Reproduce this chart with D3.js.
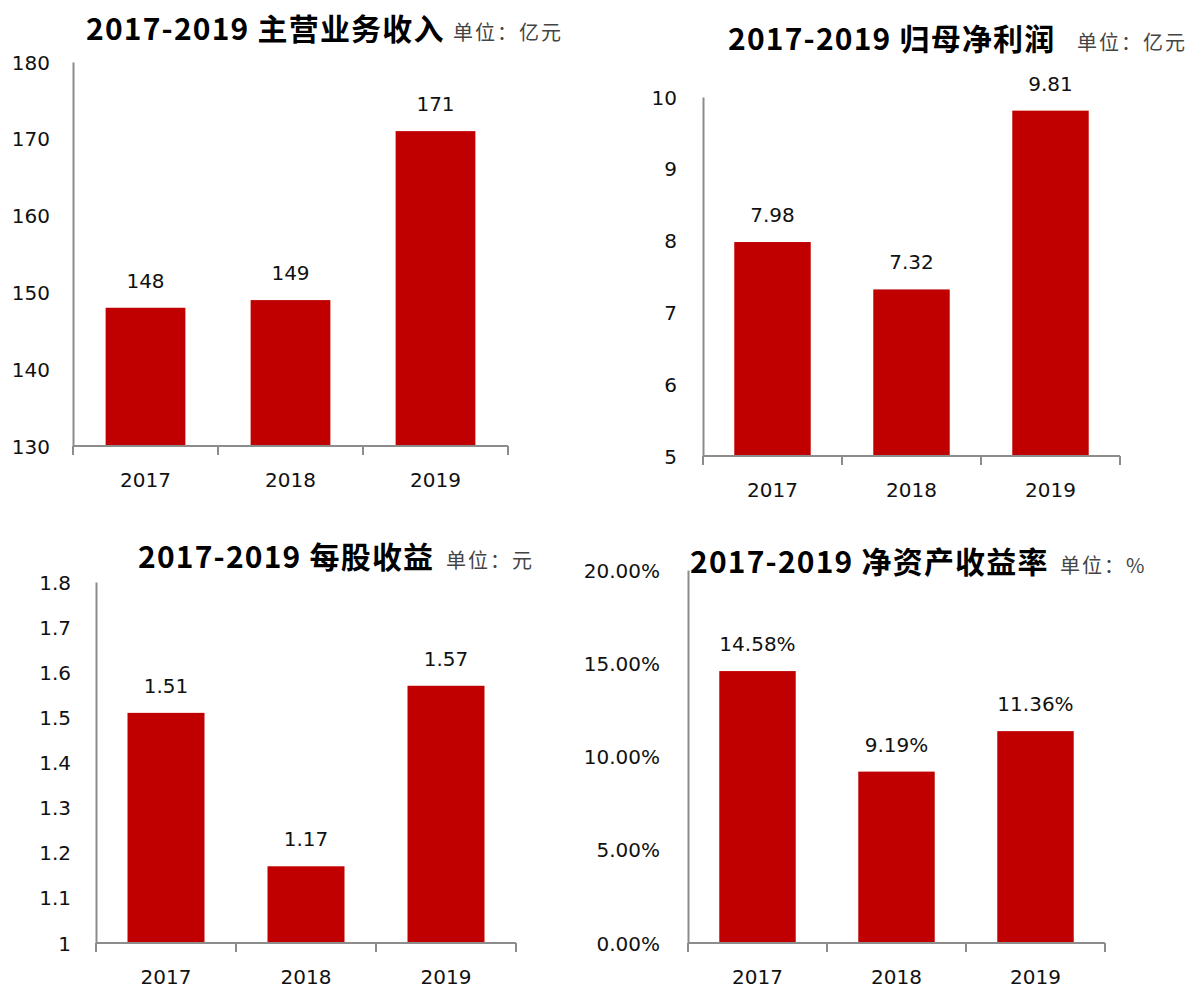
<!DOCTYPE html>
<html>
<head>
<meta charset="utf-8">
<script src="https://cdn.jsdelivr.net/npm/d3@7"></script>
<style>
    body { margin: 0; background: #fff; }
    .tick text, .val, .yr { font-family: "DejaVu Sans", Verdana, sans-serif; font-size: 20px; fill: #111; }
    .title { font-family: "Noto Sans CJK SC", sans-serif; font-weight: bold; font-size: 30px; fill: #000; letter-spacing: 1.2px; }
    .unit { font-family: "Noto Sans CJK SC", sans-serif; font-size: 20px; fill: #444; letter-spacing: 2px; }
</style>
</head>
<body>
<svg id="chart" width="1198" height="988"></svg>
<script>
const years = ["2017", "2018", "2019"]

const revenue = [148, 149, 171]
const netProfit = [7.98, 7.32, 9.81]
const eps = [1.51, 1.17, 1.57]
const roe = [14.58, 9.19, 11.36]

const revenueTicks = [130, 140, 150, 160, 170, 180]
const profitTicks = [5, 6, 7, 8, 9, 10]
const epsTicks = [1, 1.1, 1.2, 1.3, 1.4, 1.5, 1.6, 1.7, 1.8]
const roeTicks = [0, 5, 10, 15, 20]

const titles = ["2017-2019 主营业务收入", "2017-2019 归母净利润", "2017-2019 每股收益", "2017-2019 净资产收益率"]
const units = ["单位：亿元", "单位：亿元", "单位：元", "单位：%"]

const svg = d3.select("#chart")
const barColor = "#c00000"
const axisColor = "#8c8c8c"

// one panel = one small bar chart with its own axes
function drawPanel(p) {
    const g = svg.append("g")

    const x = d3.scaleBand()
        .domain(years)
        .range([p.left, p.right])
        .padding(0)

    const y = d3.scaleLinear()
        .domain(p.domain)
        .range([p.bottom, p.top])

    // y axis: line only, labels to the left
    const yAxis = g.append("g")
        .attr("transform", "translate(" + p.left + ",0)")
        .call(d3.axisLeft(y).tickValues(p.ticks).tickSize(0).tickPadding(p.labelGap).tickFormat(p.tickFormat))
    yAxis.select(".domain").attr("stroke", axisColor).attr("stroke-width", 2)
    yAxis.selectAll(".tick text").attr("dy", "0.35em")

    // bars
    const barW = x.bandwidth() * 0.55
    g.selectAll("rect")
        .data(p.values)
        .enter()
        .append("rect")
        .attr("x", (d, i) => x(years[i]) + (x.bandwidth() - barW) / 2)
        .attr("y", d => y(d))
        .attr("width", barW)
        .attr("height", d => p.bottom - y(d))
        .attr("fill", barColor)

    // x axis with ticks on band boundaries
    g.append("line")
        .attr("x1", p.left).attr("x2", p.right)
        .attr("y1", p.bottom).attr("y2", p.bottom)
        .attr("stroke", axisColor).attr("stroke-width", 2)
    const bounds = years.map(d => x(d)).concat([p.right])
    g.selectAll(".xt")
        .data(bounds)
        .enter()
        .append("line")
        .attr("x1", d => d).attr("x2", d => d)
        .attr("y1", p.bottom).attr("y2", p.bottom + 9)
        .attr("stroke", axisColor).attr("stroke-width", 2)

    g.selectAll(".yr")
        .data(years)
        .enter()
        .append("text")
        .attr("class", "yr")
        .attr("x", d => x(d) + x.bandwidth() / 2)
        .attr("y", p.bottom + 41)
        .attr("text-anchor", "middle")
        .text(d => d)

    // value labels
    g.selectAll(".val")
        .data(p.values)
        .enter()
        .append("text")
        .attr("class", "val")
        .attr("x", (d, i) => x(years[i]) + x.bandwidth() / 2)
        .attr("y", d => y(d) - 20)
        .attr("text-anchor", "middle")
        .text(p.valueFormat)

    g.append("text")
        .attr("class", "title")
        .attr("x", p.titleX).attr("y", p.titleY)
        .text(p.title)
    g.append("text")
        .attr("class", "unit")
        .attr("x", p.unitX).attr("y", p.titleY)
        .text(p.unit)
}

drawPanel({
    values: revenue, ticks: revenueTicks, domain: [130, 180],
    left: 73, right: 508, top: 62, bottom: 446, labelGap: 23,
    tickFormat: d3.format("d"), valueFormat: d3.format("d"),
    title: titles[0], unit: units[0], titleX: 86, titleY: 40, unitX: 453
})

drawPanel({
    values: netProfit, ticks: profitTicks, domain: [5, 10],
    left: 703, right: 1120, top: 97, bottom: 456, labelGap: 26,
    tickFormat: d3.format("d"), valueFormat: d3.format(".2f"),
    title: titles[1], unit: units[1], titleX: 728, titleY: 50, unitX: 1077
})

drawPanel({
    values: eps, ticks: epsTicks, domain: [1, 1.8],
    left: 96, right: 516, top: 582, bottom: 943, labelGap: 25,
    tickFormat: d3.format("~g"), valueFormat: d3.format(".2f"),
    title: titles[2], unit: units[2], titleX: 138, titleY: 568, unitX: 446
})

drawPanel({
    values: roe, ticks: roeTicks, domain: [0, 20],
    left: 688, right: 1105, top: 570, bottom: 943, labelGap: 28,
    tickFormat: d => d3.format(".2f")(d) + "%", valueFormat: d => d3.format(".2f")(d) + "%",
    title: titles[3], unit: units[3], titleX: 690, titleY: 573, unitX: 1060
})
</script>
</body>
</html>
